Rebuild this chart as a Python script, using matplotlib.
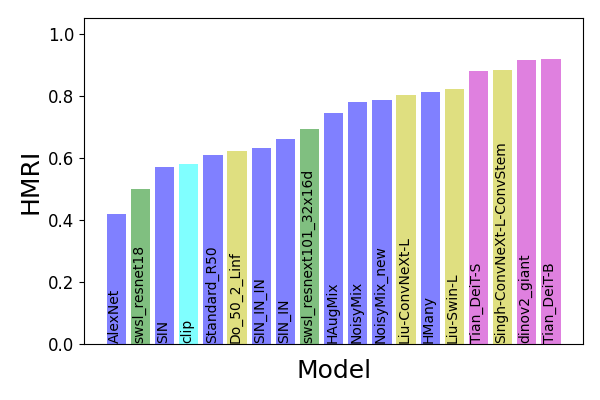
import numpy as np
import matplotlib
matplotlib.use("Agg")
import matplotlib.pyplot as plt

# models, sorted by HMRI
models = ["AlexNet", "swsl_resnet18", "SIN", "clip", "Standard_R50", "Do_50_2_Linf",
          "SIN_IN_IN", "SIN_IN", "swsl_resnext101_32x16d", "HAugMix", "NoisyMix",
          "NoisyMix_new", "Liu-ConvNeXt-L", "HMany", "Liu-Swin-L", "Tian_DeiT-S",
          "Singh-ConvNeXt-L-ConvStem", "dinov2_giant", "Tian_DeiT-B"]
hmri = [0.420, 0.500, 0.571, 0.581, 0.610, 0.623, 0.632, 0.661, 0.694, 0.745,
        0.781, 0.787, 0.803, 0.813, 0.823, 0.881, 0.884, 0.916, 0.919]
groups = ["b", "g", "b", "c", "b", "y", "b", "b", "g", "b",
          "b", "b", "y", "b", "y", "m", "y", "m", "m"]

# half-transparent colours as they show up on white
palette = {"b": "#8080ff", "g": "#80bf80", "c": "#80ffff", "y": "#dfdf80", "m": "#df80df"}
colors = [palette[g] for g in groups]

fig, ax = plt.subplots(figsize=(6, 4), dpi=100)
x = np.arange(len(models))
ax.bar(x, hmri, color=colors, width=0.8)

# names written inside the bars
for xi, name in zip(x, models):
    ax.text(xi - 0.05, 0.003, name, rotation=90, ha="center", va="bottom", fontsize=10)

ax.set_xticks([])
ax.set_ylim(0, 1.053)
ax.tick_params(axis="y", labelsize=12)
ax.set_xlabel("Model", fontsize=18, labelpad=10.5)
ax.set_ylabel("HMRI", fontsize=18)

fig.subplots_adjust(left=0.14, right=0.972, top=0.955, bottom=0.14)
fig.savefig("out.png")
